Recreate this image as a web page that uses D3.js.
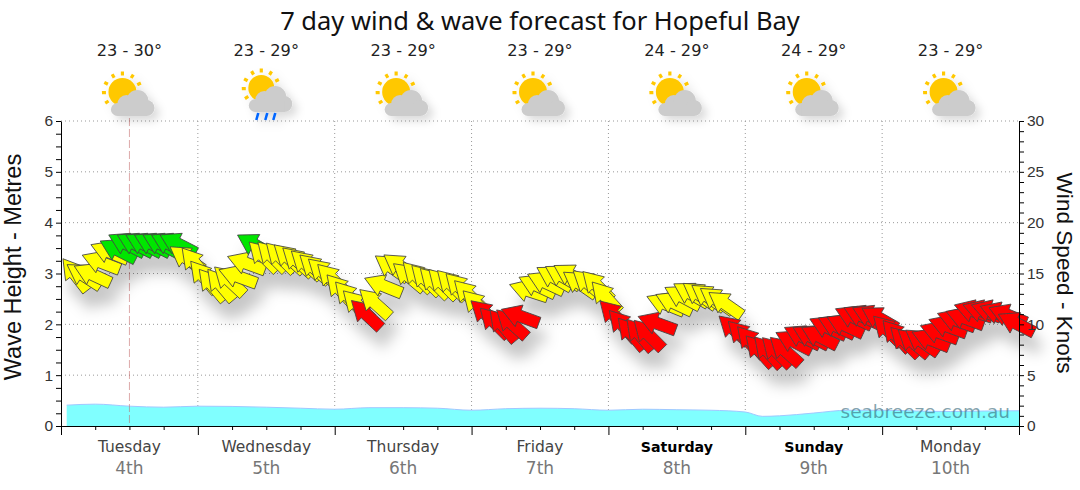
<!DOCTYPE html>
<html>
<head>
<meta charset="utf-8">
<script src="https://cdn.jsdelivr.net/npm/d3@7"></script>
<style>
  html, body { margin: 0; padding: 0; background: #fff; }
  svg { display: block; font-family: "DejaVu Sans", sans-serif; }
</style>
</head>
<body>
<svg id="chart" width="1080" height="490"></svg>
<script>
const dayNames = ["Tuesday", "Wednesday", "Thursday", "Friday", "Saturday", "Sunday", "Monday"];
const dayDates = ["4th", "5th", "6th", "7th", "8th", "9th", "10th"];
const temps = ["23 - 30°", "23 - 29°", "23 - 29°", "23 - 29°", "24 - 29°", "24 - 29°", "23 - 29°"];
const icons = ["cloud", "rain", "cloud", "cloud", "cloud", "cloud", "cloud"];
const weekend = ["Saturday", "Sunday"];

// wave height, metres
const waveHours = [1, 6, 12, 18, 24, 30, 36, 42, 48, 54, 60, 66, 72, 78, 84, 90, 96, 102, 108, 114, 120, 123, 126, 132, 138, 144, 150, 156, 162, 168];
const waveHeight = [0.41, 0.43, 0.39, 0.37, 0.39, 0.385, 0.37, 0.35, 0.33, 0.36, 0.36, 0.35, 0.31, 0.34, 0.35, 0.34, 0.31, 0.33, 0.32, 0.31, 0.275, 0.19, 0.2, 0.255, 0.31, 0.31, 0.295, 0.285, 0.295, 0.3];

// wind, one arrow every 1.5 hours
const windKnots = [
  14.9, 14.8, 14.9, 16.1, 17.1, 17.3, 17.9, 17.9, 17.9, 17.9, 17.9, 17.9, 17.9,
  16.5, 16.0, 14.7, 13.9, 13.9, 14.3, 14.7, 16.0, 17.8,
  16.7, 16.7, 16.6, 16.5, 16.2, 15.9, 15.5, 15.1, 14.5, 13.4, 12.7, 11.9, 11.0,
  12.1, 13.8, 15.6, 15.7, 14.7, 14.7, 14.4, 14.1, 14.0, 13.9, 13.6, 12.9, 11.9,
  11.0, 10.2, 9.9, 10.1, 10.8,
  13.3, 13.8, 14.1, 14.6, 14.7, 14.8, 14.0, 14.0, 13.8, 12.7,
  10.9, 9.9, 9.1, 9.0, 9.0, 10.1,
  12.0, 12.1, 12.7, 13.0, 12.9, 12.7, 12.4, 12.0,
  9.5, 8.9, 8.3, 7.4, 7.3, 7.3, 7.4, 8.3, 8.8, 8.8, 8.8, 9.7, 9.8, 9.9, 10.7, 10.8, 10.8, 10.6,
  9.4, 8.9, 8.3, 8.2, 8.3, 8.5, 9.2, 9.8, 10.4, 10.6, 11.3, 11.3, 11.3, 11.1, 10.9, 10.1
];
const windBearing = [
  322, 303, 295, 291, 292, 297, 297, 297, 297, 297, 297, 297, 297,
  305, 320, 320, 320, 320, 313, 290, 290, 300,
  315, 315, 315, 312, 312, 312, 312, 312, 315, 318, 318, 315, 313,
  312, 292, 305, 305, 310, 315, 315, 315, 315, 315, 315, 315, 315,
  312, 315, 320, 312, 290,
  288, 295, 295, 300, 300, 300, 305, 310, 315, 318,
  315, 318, 320, 320, 315, 290,
  292, 295, 298, 300, 305, 305, 305, 305,
  312, 315, 318, 318, 318, 315, 312, 297, 297, 297, 297, 295, 295, 295, 295, 295, 295, 300,
  315, 318, 315, 310, 305, 292, 290, 290, 290, 290, 288, 288, 288, 290, 292, 297
];
const windBand = ("yyyyyggggggggyyyyyyyygyyyyyyyyyyyyryyyyyyyyyyyyyrrrrr" +
  "yyyyyyyyyyrrrrrryyyyyyyy" + "rrrrrrrrrrrrrrrrrrrrrrrrrrrrrrrrrr").split("");
const bandColor = { y: "#ffff00", g: "#00e600", r: "#ff0000" };

const svg = d3.select("#chart");
const plotLeft = 61, plotRight = 1019, plotTop = 121, plotBottom = 426;

const x = d3.scaleLinear().domain([0, 168]).range([plotLeft, plotRight]);
const yWave = d3.scaleLinear().domain([0, 6]).range([plotBottom, plotTop]);
const yWind = d3.scaleLinear().domain([0, 30]).range([plotBottom, plotTop]);

// shadows
const defs = svg.append("defs");
const shadow = defs.append("filter").attr("id", "soft")
  .attr("x", "-20%").attr("y", "-20%").attr("width", "140%").attr("height", "160%");
shadow.append("feDropShadow").attr("dx", 6).attr("dy", 16).attr("stdDeviation", 7)
  .attr("flood-color", "#000").attr("flood-opacity", 0.22);
const iconShadow = defs.append("filter").attr("id", "iconsoft")
  .attr("x", "-30%").attr("y", "-30%").attr("width", "170%").attr("height", "170%");
iconShadow.append("feDropShadow").attr("dx", 5).attr("dy", 5).attr("stdDeviation", 4)
  .attr("flood-color", "#000").attr("flood-opacity", 0.14);

// title
svg.append("text").attr("x", 540).attr("y", 30).attr("text-anchor", "middle")
  .attr("font-family", "Noto Sans").attr("font-size", 25.5).attr("fill", "#111")
  .text("7 day wind & wave forecast for Hopeful Bay");

// grid
const grid = svg.append("g").attr("stroke", "#999").attr("stroke-dasharray", "1,3").attr("fill", "none");
d3.range(1, 7).forEach((m) => {
  grid.append("line").attr("x1", plotLeft).attr("x2", plotRight).attr("y1", yWave(m)).attr("y2", yWave(m));
});
d3.range(24, 168, 24).forEach((h) => {
  grid.append("line").attr("x1", x(h)).attr("x2", x(h)).attr("y1", plotTop).attr("y2", plotBottom);
});

// wave area
const waveArea = d3.area()
  .x((d, i) => x(waveHours[i]))
  .y0(plotBottom)
  .y1((d) => yWave(d))
  .curve(d3.curveMonotoneX);
svg.append("path").datum(waveHeight).attr("d", waveArea)
  .attr("fill", "#80ffff").attr("stroke", "none");
svg.append("path").datum(waveHeight)
  .attr("d", d3.line().x((d, i) => x(waveHours[i])).y((d) => yWave(d)).curve(d3.curveMonotoneX))
  .attr("fill", "none").attr("stroke", "#a0c8ff");

// now line
svg.append("line").attr("x1", x(12)).attr("x2", x(12)).attr("y1", 118).attr("y2", plotBottom)
  .attr("stroke", "#c06060").attr("stroke-opacity", 0.55).attr("stroke-dasharray", "8,3");

// arrows, later ones on top
const arrowPath = "M0,-20 L11.5,-1 L6,-1 L6,20 L-6,20 L-6,-1 L-11.5,-1 Z";
svg.append("g").attr("filter", "url(#soft)")
  .selectAll("path").data(windKnots).enter().append("path")
  .attr("d", arrowPath)
  .attr("transform", (d, i) => `translate(${x(2.5 + 1.5 * i)},${yWind(d)}) rotate(${windBearing[i]})`)
  .attr("fill", (d, i) => bandColor[windBand[i]])
  .attr("stroke", "#444").attr("stroke-width", 0.8).attr("stroke-linejoin", "miter");

// axes
const styleAxis = (g) => {
  g.selectAll("path.domain").attr("stroke", "#000");
  g.selectAll("line").attr("stroke", "#000");
  g.selectAll("text").attr("fill", "#333").attr("font-size", 15.5);
};
svg.append("g").attr("transform", `translate(${plotLeft},0)`)
  .call(d3.axisLeft(yWave).tickValues(d3.range(0, 6.01, 0.25)).tickSize(5).tickSizeOuter(0)
    .tickFormat((d) => (Number.isInteger(d) ? d : "")))
  .call(styleAxis);
svg.append("g").attr("transform", `translate(${plotRight},0)`)
  .call(d3.axisRight(yWind).tickValues(d3.range(0, 31)).tickSize(5).tickSizeOuter(0)
    .tickFormat((d) => (d % 5 === 0 ? d : "")))
  .call(styleAxis);
svg.append("g").attr("transform", `translate(0,${plotBottom})`)
  .call(d3.axisBottom(x).tickValues(d3.range(0, 169, 6)).tickSize(4).tickSizeOuter(0).tickFormat(""))
  .call(styleAxis)
  .selectAll("g.tick line").attr("y2", (d) => (d % 24 === 0 ? 9 : 4));

// axis titles
svg.append("text").attr("transform", "translate(21,267) rotate(-90)").attr("text-anchor", "middle")
  .attr("font-family", "Liberation Sans").attr("font-size", 23.5).attr("fill", "#111").text("Wave Height - Metres");
svg.append("text").attr("transform", "translate(1057,273) rotate(90)").attr("text-anchor", "middle")
  .attr("font-family", "Liberation Sans").attr("font-size", 22.6).attr("fill", "#111").text("Wind Speed - Knots");

// day labels, temperatures and icons
const midDay = (i) => x(12 + 24 * i);
const days = svg.append("g").attr("text-anchor", "middle");
dayNames.forEach((name, i) => {
  const isWeekend = weekend.includes(name);
  days.append("text").attr("x", midDay(i)).attr("y", 452).attr("font-size", isWeekend ? 14.2 : 15.5)
    .attr("fill", isWeekend ? "#000" : "#444")
    .attr("font-weight", isWeekend ? "bold" : "normal").text(name);
  days.append("text").attr("x", midDay(i)).attr("y", 474).attr("font-size", 17)
    .attr("fill", "#777").text(dayDates[i]);
  days.append("text").attr("x", midDay(i)).attr("y", 56).attr("font-size", 16.2)
    .attr("fill", "#222").text(temps[i]);
});

const rayAngles = [0, 32, 64, -30, -62, -92, -123];
const drawIcon = (cx, kind) => {
  const rainy = kind === "rain";
  const g = svg.append("g").attr("filter", "url(#iconsoft)")
    .attr("transform", `translate(${cx},${rainy ? -4 : 0})`);
  const sx = rainy ? -5 : -7, sy = 92, r = rainy ? 13 : 14;
  rayAngles.forEach((deg) => {
    const a = (deg * Math.PI) / 180;
    g.append("line")
      .attr("x1", sx + (r + 2.5) * Math.sin(a)).attr("y1", sy - (r + 2.5) * Math.cos(a))
      .attr("x2", sx + (r + 6.5) * Math.sin(a)).attr("y2", sy - (r + 6.5) * Math.cos(a))
      .attr("stroke", "#ffc800").attr("stroke-width", 3.2);
  });
  g.append("circle").attr("cx", sx).attr("cy", sy).attr("r", r).attr("fill", "#ffc800");
  const cloud = g.append("g").attr("fill", "#cccccc")
    .attr("transform", rainy ? "translate(1,0)" : null);
  [[-12, 109.5, 6.5], [-3, 104, 9], [8, 101, 11], [17, 108, 8]].forEach((c) => {
    cloud.append("circle").attr("cx", c[0]).attr("cy", c[1]).attr("r", c[2]);
  });
  cloud.append("rect").attr("x", -12).attr("y", 105).attr("width", 29).attr("height", 11);
  if (rainy) {
    [-8, 1, 9].forEach((dx) => {
      g.append("line").attr("x1", dx).attr("x2", dx - 2).attr("y1", 117).attr("y2", 124)
        .attr("stroke", "#0066ff").attr("stroke-width", 2.6);
    });
  }
};
icons.forEach((kind, i) => drawIcon(midDay(i), kind));

// watermark
svg.append("text").attr("x", 1010).attr("y", 418).attr("text-anchor", "end")
  .attr("font-size", 18.5).attr("fill", "#336677").attr("fill-opacity", 0.6)
  .text("seabreeze.com.au");
</script>
</body>
</html>
